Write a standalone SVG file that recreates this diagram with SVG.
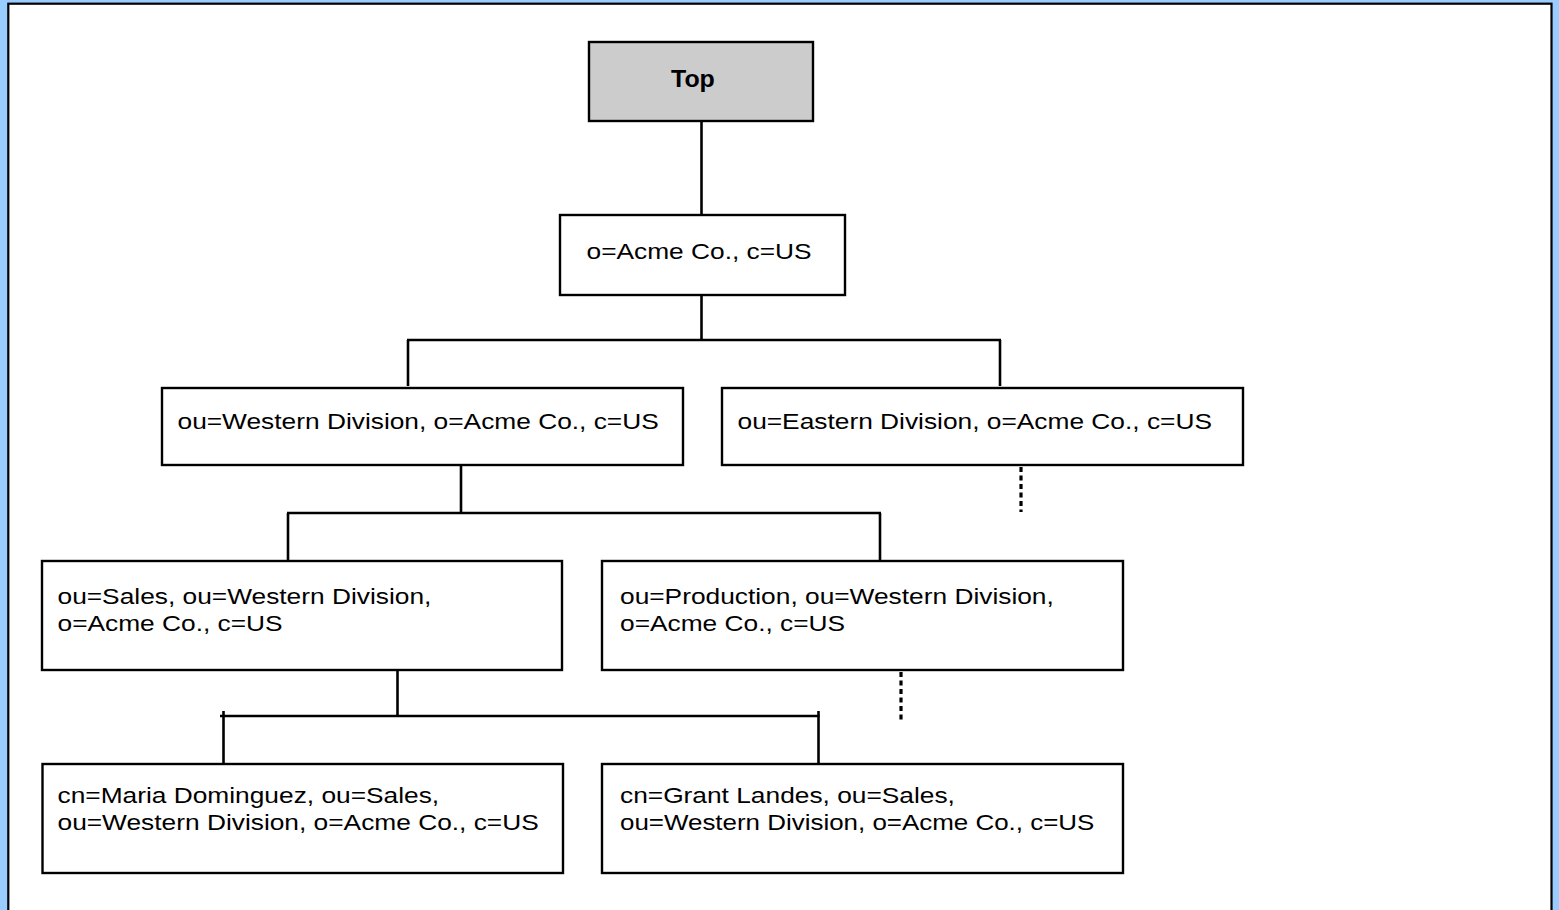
<svg xmlns="http://www.w3.org/2000/svg" width="1559" height="910" viewBox="0 0 1559 910">
  <style>
    .bg { fill: #99ccff; }
    .frame { fill: #ffffff; stroke: #000000; stroke-width: 2.2; }
    .box { fill: #ffffff; stroke: #000000; stroke-width: 2.4; }
    .top { fill: #cccccc; stroke: #000000; stroke-width: 2.4; }
    .lbl { font-family: "Liberation Sans", Arial, Helvetica, sans-serif; font-size: 22.5px; fill: #000000; }
    .bold { font-weight: bold; font-size: 24px; }
    .conn { stroke: #000000; stroke-width: 2.6; fill: none; }
    .dot { stroke: #000000; stroke-width: 3.2; fill: none; stroke-dasharray: 5 3.5; }
  </style>
  <rect class="bg" x="0" y="0" width="1559" height="910"/>
  <rect class="frame" x="8.3" y="3.7" width="1543.2" height="930"/>

  <g id="connectors">
    <line class="conn" x1="701.5" y1="121" x2="701.5" y2="215"/>
    <line class="conn" x1="701.5" y1="295" x2="701.5" y2="340"/>
    <line class="conn" x1="407" y1="340" x2="1001" y2="340"/>
    <line class="conn" x1="408" y1="340" x2="408" y2="386"/>
    <line class="conn" x1="1000" y1="340" x2="1000" y2="386"/>
    <line class="dot" x1="1021" y1="467" x2="1021" y2="512"/>
    <line class="conn" x1="461" y1="465" x2="461" y2="513"/>
    <line class="conn" x1="287" y1="513" x2="881" y2="513"/>
    <line class="conn" x1="288" y1="513" x2="288" y2="560"/>
    <line class="conn" x1="880" y1="513" x2="880" y2="560"/>
    <line class="dot" x1="901" y1="672" x2="901" y2="720"/>
    <line class="conn" x1="397.5" y1="670" x2="397.5" y2="716"/>
    <line class="conn" x1="220" y1="716" x2="819.5" y2="716"/>
    <line class="conn" x1="223.5" y1="711" x2="223.5" y2="763"/>
    <line class="conn" x1="818.5" y1="711" x2="818.5" y2="763"/>
  </g>

  <g id="node-top">
    <rect class="top" x="589" y="42" width="224" height="79"/>
    <text class="lbl bold" transform="translate(671,87) scale(1.04,1)">Top</text>
  </g>

  <g id="node-acme">
    <rect class="box" x="560" y="215" width="285" height="80"/>
    <text class="lbl" transform="translate(586.5,259.3) scale(1.17,1)">o=Acme Co., c=US</text>
  </g>

  <g id="node-western">
    <rect class="box" x="162" y="388" width="521" height="77"/>
    <text class="lbl" transform="translate(177.5,429.3) scale(1.17,1)">ou=Western Division, o=Acme Co., c=US</text>
  </g>

  <g id="node-eastern">
    <rect class="box" x="722" y="388" width="521" height="77"/>
    <text class="lbl" transform="translate(737.5,429.3) scale(1.17,1)">ou=Eastern Division, o=Acme Co., c=US</text>
  </g>

  <g id="node-sales">
    <rect class="box" x="42" y="561" width="520" height="109"/>
    <text class="lbl" transform="translate(57.5,603.5) scale(1.17,1)">ou=Sales, ou=Western Division,</text>
    <text class="lbl" transform="translate(57.5,630.5) scale(1.17,1)">o=Acme Co., c=US</text>
  </g>

  <g id="node-production">
    <rect class="box" x="602" y="561" width="521" height="109"/>
    <text class="lbl" transform="translate(620,603.5) scale(1.17,1)">ou=Production, ou=Western Division,</text>
    <text class="lbl" transform="translate(620,630.5) scale(1.17,1)">o=Acme Co., c=US</text>
  </g>

  <g id="node-maria">
    <rect class="box" x="42.5" y="764" width="520.5" height="109"/>
    <text class="lbl" transform="translate(57.5,803) scale(1.17,1)">cn=Maria Dominguez, ou=Sales,</text>
    <text class="lbl" transform="translate(57.5,830) scale(1.17,1)">ou=Western Division, o=Acme Co., c=US</text>
  </g>

  <g id="node-grant">
    <rect class="box" x="602" y="764" width="521" height="109"/>
    <text class="lbl" transform="translate(620,803) scale(1.17,1)">cn=Grant Landes, ou=Sales,</text>
    <text class="lbl" transform="translate(620,830) scale(1.153,1)">ou=Western Division, o=Acme Co., c=US</text>
  </g>
</svg>
